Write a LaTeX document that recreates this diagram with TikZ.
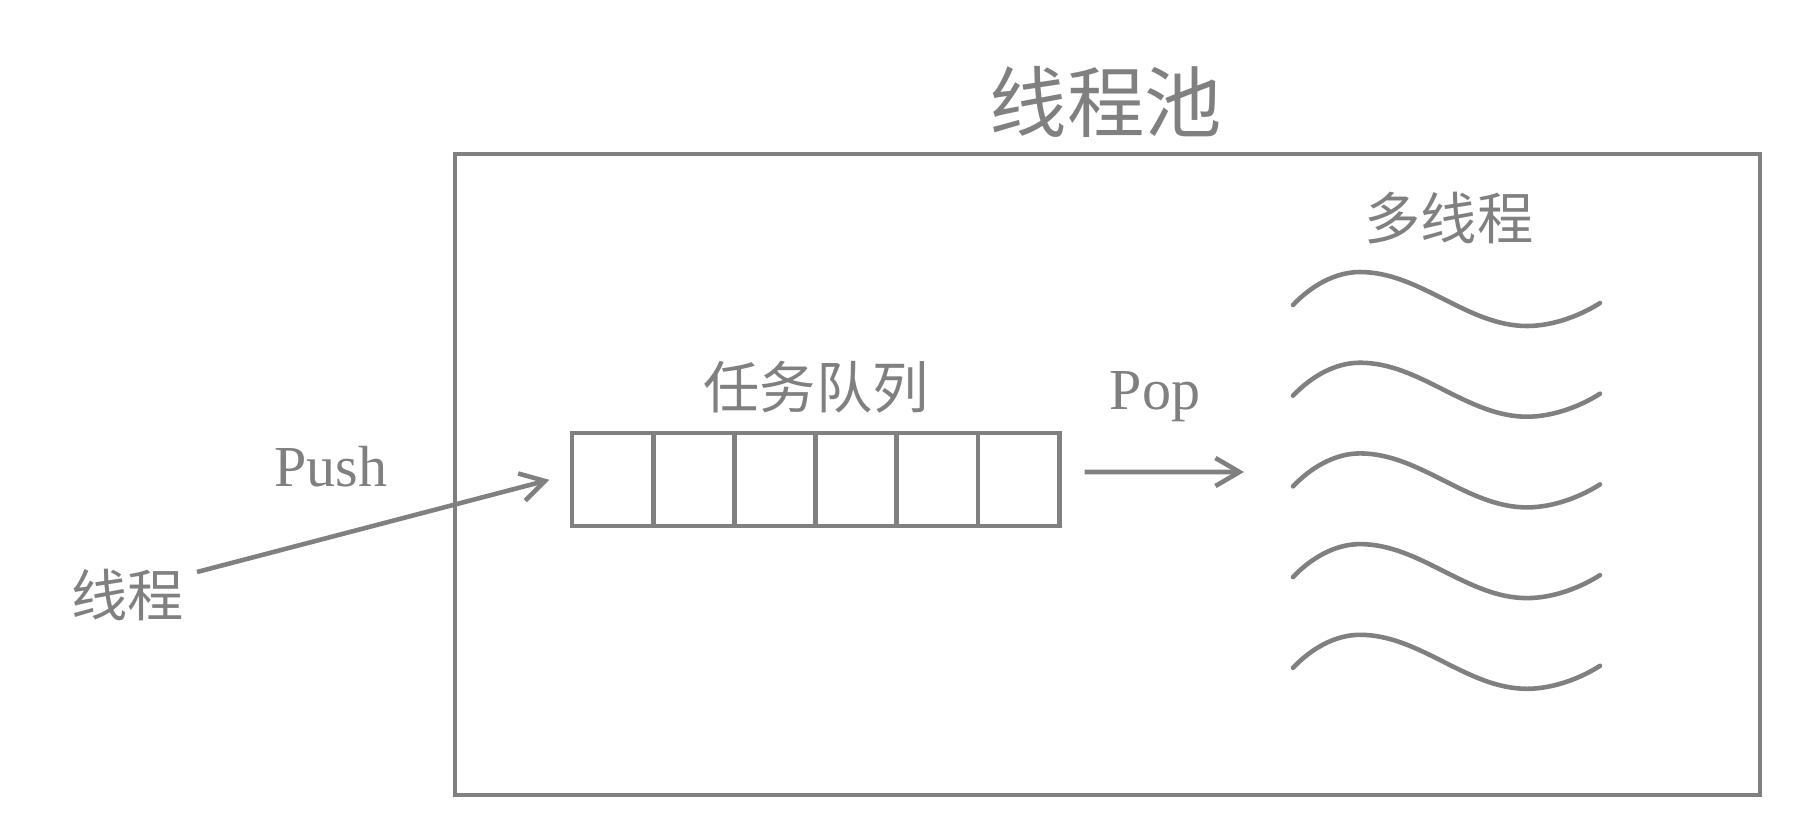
\documentclass[tikz,border=0pt]{standalone}
\usepackage{fontspec}
\newfontfamily\cjk{Noto Sans CJK SC}
\newfontfamily\latin{Liberation Serif}
\usetikzlibrary{arrows.meta}

\definecolor{linegray}{RGB}{128,128,128}

\tikzset{
    line/.style={draw=linegray, line width=1.3pt},
    cell/.style={line, minimum width=0.812cm, minimum height=0.93cm, inner sep=0pt},
    arrow/.style={line, -{Straight Barb[length=2.4mm, width=2.8mm]}},
    cjklabel/.style={text=linegray, font=\cjk\fontsize{16}{16}\selectfont, inner sep=0pt},
    latinlabel/.style={text=linegray, font=\latin\fontsize{16.5}{16.5}\selectfont, inner sep=0pt}
}

\begin{document}
\begin{tikzpicture}[x=0.01cm, y=-0.01cm] % 1 单位 = 参考图 1 像素
    % --- 定义参数 ---
    \def\cellW{81.2}     % 队列格子宽度
    \def\waveGap{90.7}   % 波浪线间距

    \useasboundingbox (0,0) rectangle (1820,830);

    % --- 线程池外框 ---
    \draw[line] (455,154) rectangle (1760,795);
    \node[text=linegray, font=\cjk\fontsize{22}{22}\selectfont, inner sep=0pt] (title) at (1106,102) {线程池};

    % --- 任务队列 ---
    \foreach \i in {1,...,6}
        \node[cell] (c\i) at ({572+\cellW*(\i-0.5)},479.5) {};
    \node[cjklabel] (queue) at (816,387) {任务队列};

    % --- Push: 线程 -> 队列 ---
    \node[cjklabel] (thread) at (128,595) {线程};
    \coordinate (pushstart) at (197,572);
    \node[latinlabel] (push) at (331,467) {Push};
    \draw[arrow, shorten >=0.21cm] (pushstart) -- ([yshift=0.05cm]c1.west);

    % --- Pop: 队列 -> 多线程 ---
    \node[latinlabel] (pop) at (1155,397) {Pop};
    \coordinate (popend) at (1244,472);
    \draw[arrow, shorten <=0.23cm] ([yshift=0.075cm]c6.east) -- (popend);

    % --- 多线程 (波浪线) ---
    \node[cjklabel] (workers) at (1449,218) {多线程};
    \foreach \k in {0,...,4} {
        \begin{scope}[shift={(1293,{305+\waveGap*\k})}]
            \draw[line, line cap=round] (0,0) .. controls (18,-19) and (42,-33) .. (67,-33)
                .. controls (127,-33) and (174,21) .. (234,21)
                .. controls (262,21) and (290,9) .. (307,-2);
        \end{scope}
    }

\end{tikzpicture}
\end{document}
